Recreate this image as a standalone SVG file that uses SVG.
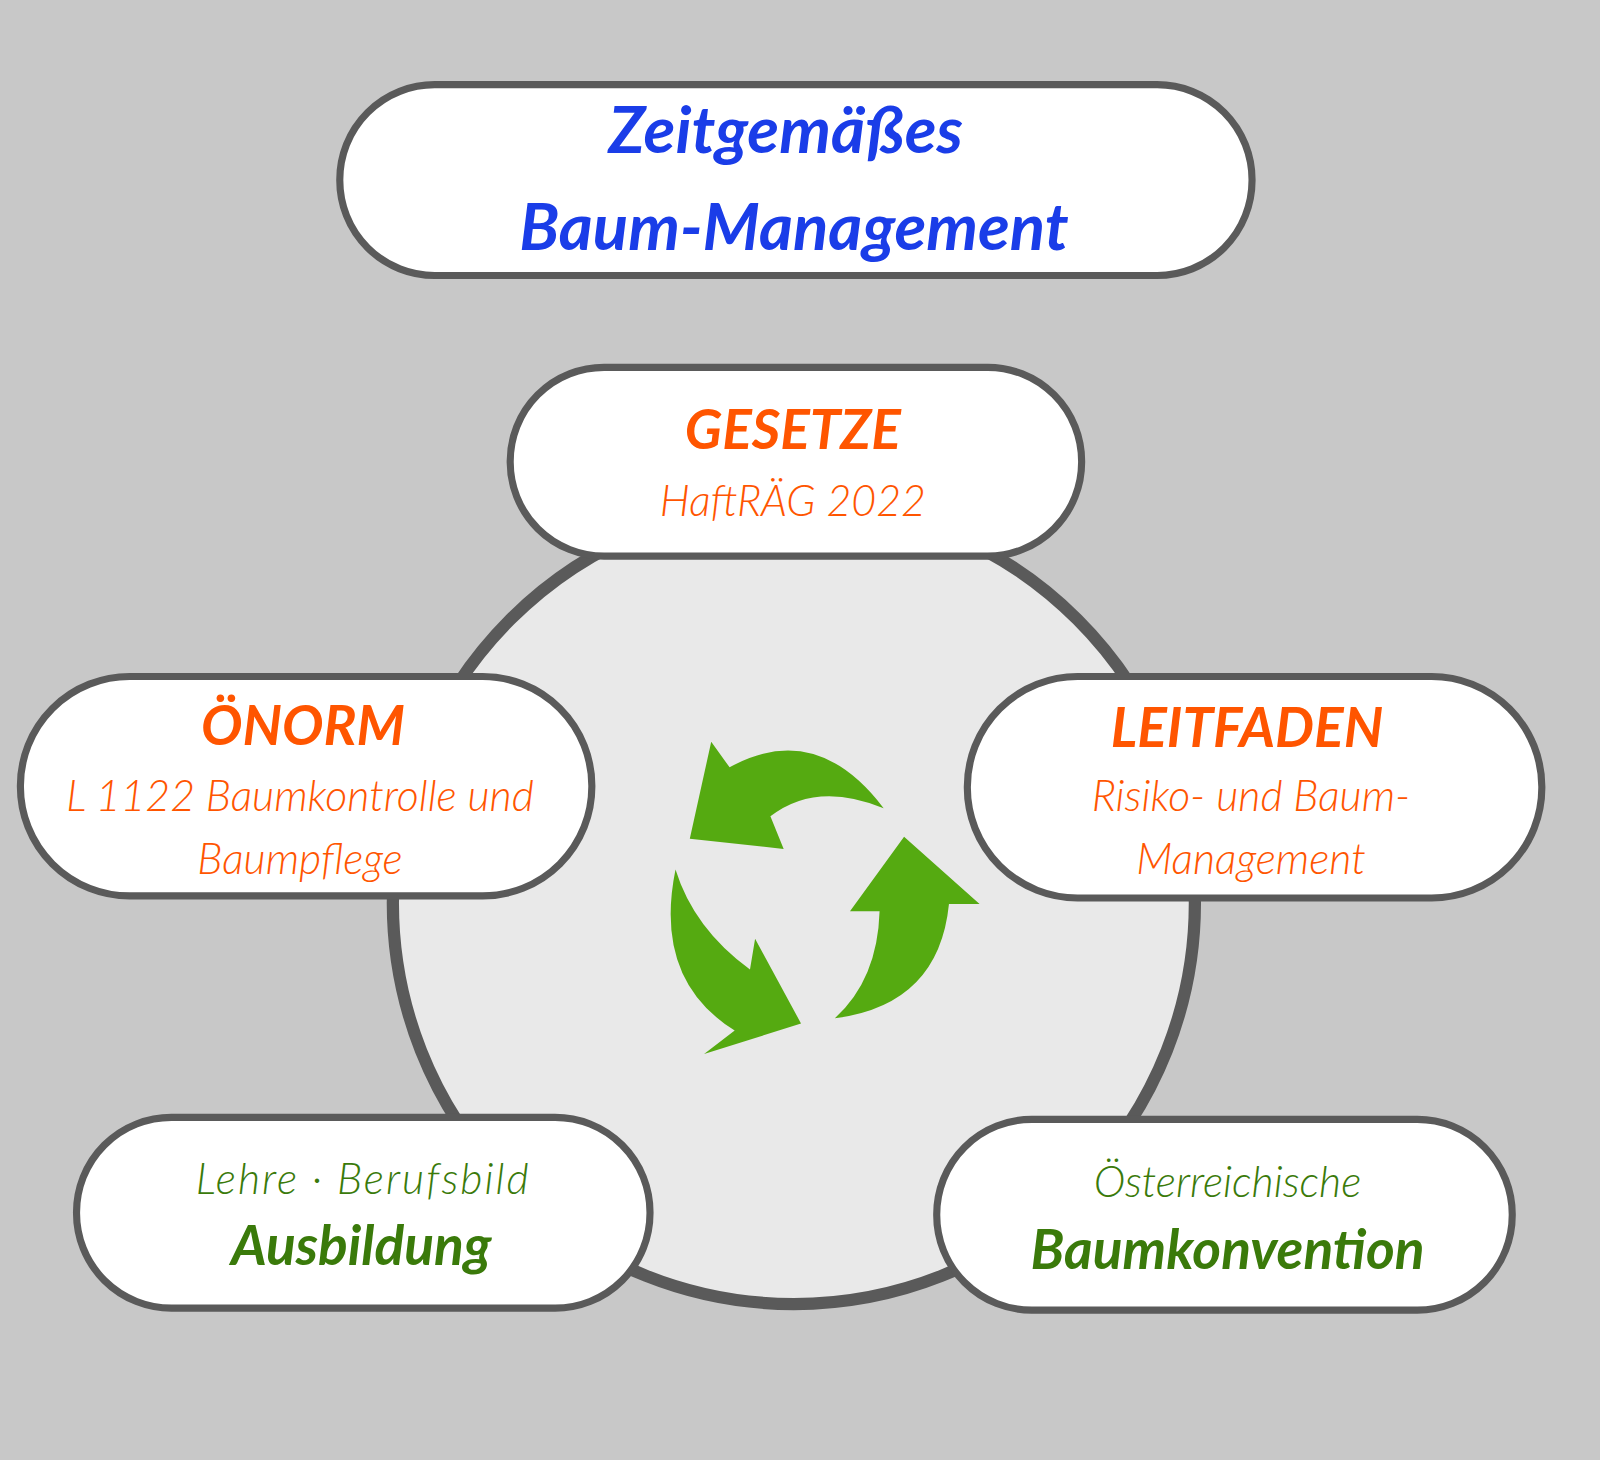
<svg xmlns="http://www.w3.org/2000/svg" width="1600" height="1460" viewBox="0 0 1600 1460">
<style>
.pill{fill:#fff;stroke:#5a5a5a;stroke-width:7}
text{font-family:Lato,"Noto Sans",sans-serif;font-style:italic;text-anchor:middle}
.o{fill:#ff5500}.g{fill:#3a7a0a}.b{fill:#1a3de8;font-weight:bold;font-size:64px}
.h{font-weight:bold;font-size:54px}.s{font-size:42px;font-weight:300}
.arr{fill:#55aa11}
</style>
<rect width="1600" height="1460" fill="#c8c8c8"/>
<g transform="scale(1.0204)">
<g id="cycle"><circle cx="778" cy="885" r="393" fill="#e9e9e9" stroke="#5a5a5a" stroke-width="12"/></g>
<g id="connectors">
<path class="arr" d="M866 792 Q800 765 755 800 L768 832 L676 822 L697 727 L715 752 Q800 705 866 792 Z"/>
<path class="arr" d="M662 852 Q640 960 720 1010 L690 1033 L785 1003 L740 920 L735 950 Q680 910 662 852 Z"/>
<path class="arr" d="M818 998 Q920 985 930 886 L960 886 L886 820 L833 893 L862 893 Q860 960 818 998 Z"/>
</g>
<g id="title"><rect class="pill" x="333" y="83" width="894" height="187" rx="93"/>
<text class="b" x="770" y="150">Zeitgemäßes</text><text class="b" x="778" y="245">Baum-Management</text></g>
<g id="gesetze"><rect class="pill" x="500" y="360" width="560" height="185" rx="92"/>
<text class="o h" x="777" y="440">GESETZE</text><text class="o s" x="777" y="506">HaftRÄG 2022</text></g>
<g id="oenorm"><rect class="pill" x="20" y="663" width="560" height="215" rx="107"/>
<text class="o h" x="297" y="730">ÖNORM</text><text class="o s" x="294" y="795">L 1122 Baumkontrolle und</text><text class="o s" x="294" y="857">Baumpflege</text></g>
<g id="leitfaden"><rect class="pill" x="948" y="663" width="563" height="217" rx="108"/>
<text class="o h" x="1222" y="732">LEITFADEN</text><text class="o s" x="1226" y="795">Risiko- und Baum-</text><text class="o s" x="1226" y="857">Management</text></g>
<g id="ausbildung"><rect class="pill" x="75" y="1095" width="562" height="187" rx="93"/>
<text class="g s" x="356" y="1170" letter-spacing="2">Lehre · Berufsbild</text><text class="g h" x="354" y="1240" font-size="48">Ausbildung</text></g>
<g id="konvention"><rect class="pill" x="918" y="1097" width="564" height="187" rx="93"/>
<text class="g s" x="1203" y="1173">Österreichische</text><text class="g h" x="1203" y="1244" font-size="48">Baumkonvention</text></g>
</g>
</svg>
